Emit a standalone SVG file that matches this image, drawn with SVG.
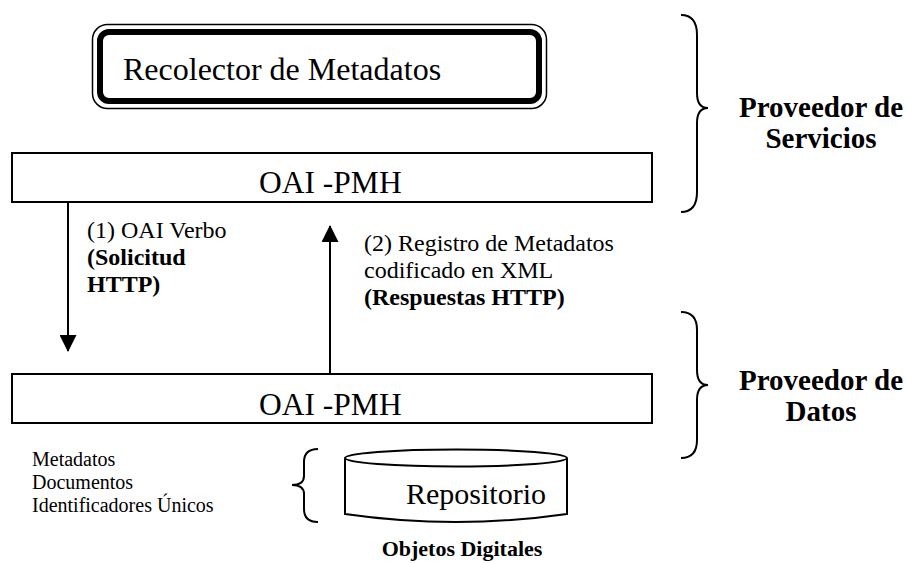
<svg xmlns="http://www.w3.org/2000/svg" width="906" height="563" viewBox="0 0 906 563">
<style>
text{font-family:"Liberation Serif","Times New Roman",serif;fill:#000}
.b{font-weight:bold}
.box{fill:#fff;stroke:#000;stroke-width:2}
.ln{fill:none;stroke:#000;stroke-width:2}
.lbl{font-size:24px}
.side{font-size:29px;font-weight:bold;text-anchor:middle}
.small{font-size:20px}
</style>
<defs>
<marker id="ah" markerWidth="17" markerHeight="17" refX="16" refY="8.5" orient="auto" markerUnits="userSpaceOnUse" viewBox="0 0 17 17">
<path d="M0,0 L17,8.5 L0,17 Z" fill="#000"/>
</marker>
<clipPath id="c1"><rect x="12" y="153" width="640" height="40"/></clipPath>
</defs>
<rect width="906" height="563" fill="#fff"/>
<g id="recolector">
<rect x="92.5" y="24.5" width="454" height="84" rx="15" fill="#fff" stroke="#000" stroke-width="1.5"/>
<rect x="100" y="32" width="439" height="69" rx="9" fill="#fff" stroke="#000" stroke-width="6"/>
<text x="123" y="80" font-size="32">Recolector de Metadatos</text>
</g>
<g id="oai-servicios">
<rect class="box" x="12" y="153" width="640" height="49"/>
<text x="259" y="193" font-size="31.5" clip-path="url(#c1)">OAI -PMH</text>
</g>
<g id="oai-datos">
<rect class="box" x="12" y="374" width="640" height="49"/>
<text x="259" y="415" font-size="31.5">OAI -PMH</text>
</g>
<g id="connectors">
<line class="ln" x1="68" y1="202" x2="68" y2="351" marker-end="url(#ah)"/>
<line class="ln" x1="330" y1="374" x2="330" y2="226" marker-end="url(#ah)"/>
</g>
<g id="label1">
<text x="87" y="238" class="lbl">(1) OAI Verbo</text>
<text x="87" y="265" class="lbl b">(Solicitud</text>
<text x="87" y="292" class="lbl b">HTTP)</text>
</g>
<g id="label2">
<text x="364" y="251" class="lbl">(2) Registro de Metadatos</text>
<text x="364" y="278" class="lbl">codificado en XML</text>
<text x="364" y="305" class="lbl b">(Respuestas HTTP)</text>
</g>
<g id="brace-servicios">
<path class="ln" d="M681,15 Q697,15 697,35 L697,93 Q697,108 708,108 Q697,108 697,123 L697,192 Q697,212 681,212"/>
<text x="821" y="117" class="side">Proveedor de</text>
<text x="821" y="148" class="side">Servicios</text>
</g>
<g id="brace-datos">
<path class="ln" d="M681,312 Q697,312 697,330 L697,370 Q697,385 708,385 Q697,385 697,400 L697,440 Q697,458 681,458"/>
<text x="821" y="390" class="side">Proveedor de</text>
<text x="821" y="421" class="side">Datos</text>
</g>
<g id="contenidos">
<text x="32" y="466" class="small">Metadatos</text>
<text x="32" y="489" class="small">Documentos</text>
<text x="32" y="512" class="small">Identificadores Únicos</text>
</g>
<g id="brace-repo">
<path class="ln" d="M318,449 Q304,449 304,462 L304,476 Q304,485 292,485 Q304,485 304,494 L304,509 Q304,522 318,522"/>
</g>
<g id="repositorio">
<path d="M345,458 L345,514 Q456,530 567,514 L567,458" fill="#fff" stroke="#000" stroke-width="2"/>
<ellipse cx="456" cy="458" rx="111" ry="8.5" fill="#fff" stroke="#000" stroke-width="2"/>
<text x="406" y="504" font-size="30">Repositorio</text>
<text x="462" y="556" font-size="22" class="b" text-anchor="middle">Objetos Digitales</text>
</g>
</svg>
